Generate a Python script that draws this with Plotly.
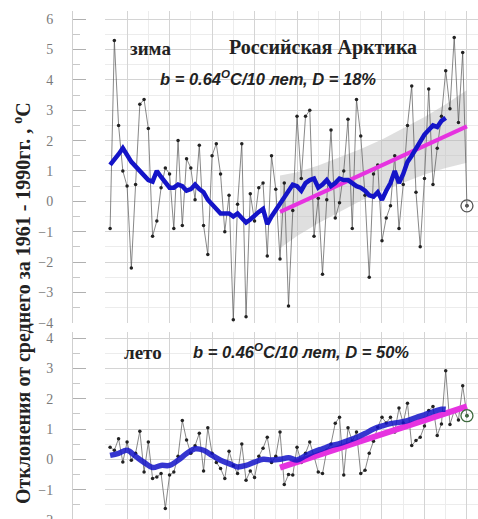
import plotly.graph_objects as go

# ---------------- data ----------------
years = list(range(1936, 2021))

winter = [-0.9, 5.3, 2.5, 1.0, 0.5, -2.2, 0.55, 3.2, 3.35, 2.4,
          -1.15, -0.65, 0.45, 1.1, 0.9, -0.9, 2.0, -0.8, 1.4, 1.1,
          0.05, 1.85, -0.8, -1.75, 1.5, 1.9, 0.9, -1.0, 0.2, -3.9,
          -0.1, 1.9, -3.8, 0.25, -0.65, 0.45, 0.6, -1.8, 1.5, 0.4,
          -1.9, 0.6, -3.45, -0.3, 2.8, 0.75, 2.8, 3.0, -1.15, 0.1,
          -2.4, 0.05, 2.35, -0.55, -0.05, 1.0, 2.7, -0.9, 3.35, 2.15,
          0.2, -2.5, 0.9, 1.2, -1.3, -0.55, -0.15, 1.5, -0.9, 0.55,
          2.5, 3.8, 0.3, -1.5, 0.75, 3.7, 0.55, 1.75, 2.8, 4.3,
          3.05, 5.4, 2.6, 4.9, -0.15]

summer = [0.4, 0.3, 0.68, -0.09, 0.57, -0.03, 0.2, 0.93, -0.42, 0.57,
          -0.63, -0.58, -0.47, -1.62, -0.52, -0.42, 0.1, 1.28, 0.64, 0.2,
          0.45, 0.86, -0.38, 1.04, 0.2, -0.1, -0.3, -0.63, 0.27, -0.2,
          -0.47, 0.51, -0.69, -0.38, -0.6, 0.1, 0.37, 0.73, -0.1, 0.1,
          0.9, -0.83, -0.5, -0.52, 0.4, -0.1, 0.2, 0.57, 0.1, -0.42,
          -0.47, 0.3, 0.51, 1.19, 1.39, -0.52, 1.04, 0.6, 0.9, -0.47,
          -0.36, 0.2, 0.6, 1.06, 1.39, 1.2, 1.39, 0.9, 1.69, 1.2,
          1.85, 0.46, 0.62, 0.73, 1.1, 1.61, 1.74, 0.79, 1.17, 2.92,
          1.15, 1.6, 1.3, 2.43, 1.44]

# smoothed (running mean) curves
smooth_years = list(range(1936, 2016))
winter_smooth = [1.2, 1.35, 1.55, 1.75, 1.5, 1.3, 1.15, 1.0, 0.8, 0.7,
                 0.65, 1.0, 0.8, 0.65, 0.45, 0.45, 0.55, 0.5, 0.35, 0.4,
                 0.55, 0.4, 0.3, 0.05, -0.1, -0.25, -0.4, -0.4, -0.4, -0.5,
                 -0.4, -0.55, -0.7, -0.6, -0.45, -0.35, -0.25, -0.75, -0.5, -0.3,
                 -0.05, 0.15, 0.35, 0.55, 0.5, 0.35, 0.6, 0.7, 0.75, 0.45,
                 0.55, 0.7, 0.5, 0.6, 0.75, 0.7, 0.7, 0.6, 0.5, 0.45,
                 0.35, 0.2, 0.15, 0.3, 0.05, 0.35, 0.6, 1.0, 0.6, 0.9,
                 1.3, 1.5, 1.75, 1.95, 2.2, 2.35, 2.5, 2.45, 2.65, 2.75]

summer_smooth_years = [1936, 1938, 1940, 1942, 1944, 1946, 1948, 1950, 1952, 1954,
                       1956, 1958, 1960, 1962, 1964, 1966, 1968, 1970, 1972, 1974,
                       1976, 1978, 1980, 1982, 1984, 1986, 1988, 1990, 1992, 1994,
                       1996, 1998, 2000, 2002, 2004, 2006, 2008, 2010, 2012, 2014, 2015]
summer_smooth = [0.13, 0.2, 0.3, 0.1, -0.1, -0.27, -0.2, -0.2, -0.03, 0.19,
                 0.35, 0.3, 0.13, -0.03, -0.14, -0.25, -0.2, -0.09, 0.0, -0.02,
                 0.0, 0.05, -0.02, 0.12, 0.25, 0.35, 0.45, 0.52, 0.62, 0.72,
                 0.85, 1.0, 1.1, 1.18, 1.22, 1.28, 1.38, 1.47, 1.57, 1.65, 1.65]

# linear trends since 1976
trend_years = [1976, 2020]
winter_trend = [-0.35, 2.47]
summer_trend = [-0.27, 1.75]

# confidence band of winter trend
band_years = [1976, 1980, 1985, 1990, 1995, 2000, 2005, 2010, 2015, 2020]
band_upper = [0.85, 0.96, 1.18, 1.45, 1.72, 2.04, 2.41, 2.78, 3.2, 3.67]
band_lower = [-1.55, -1.14, -0.72, -0.35, 0.02, 0.34, 0.61, 0.88, 1.1, 1.27]

# latest year (circled)
last_year = [2020]
winter_last = [-0.15]
summer_last = [1.44]

# ---------------- figure ----------------
W = 478
H = 528          # layout height; positions below are given in 519-px picture units
REF_H = 519
fig = go.Figure()

BLUE = "#1414c8"
PINK = "#e633e0"
DOT = "#222222"


def circled(x, y, color, xa, ya):
    fig.add_trace(go.Scatter(x=x, y=y, mode="markers", cliponaxis=False,
                             marker=dict(symbol="circle", size=12, color="rgba(255,255,255,0)",
                                         line=dict(width=1.3, color=color)),
                             xaxis=xa, yaxis=ya))
    fig.add_trace(go.Scatter(x=x, y=y, mode="markers", cliponaxis=False,
                             marker=dict(symbol="circle", size=3.5, color=color),
                             xaxis=xa, yaxis=ya))


# top panel (winter)
fig.add_trace(go.Scatter(x=band_years + band_years[::-1], y=band_upper + band_lower[::-1],
                         fill="toself", fillcolor="rgba(185,185,185,0.45)",
                         line=dict(width=0), hoverinfo="skip", xaxis="x", yaxis="y"))
fig.add_trace(go.Scatter(x=years, y=winter, mode="lines+markers",
                         line=dict(color="#555555", width=0.7),
                         marker=dict(color=DOT, size=3.5), xaxis="x", yaxis="y"))
fig.add_trace(go.Scatter(x=trend_years, y=winter_trend, mode="lines",
                         line=dict(color=PINK, width=4), xaxis="x", yaxis="y"))
fig.add_trace(go.Scatter(x=smooth_years, y=winter_smooth, mode="lines",
                         line=dict(color=BLUE, width=4.5), xaxis="x", yaxis="y"))
circled(last_year, winter_last, "#555555", "x", "y")

# bottom panel (summer)
fig.add_trace(go.Scatter(x=years, y=summer, mode="lines+markers",
                         line=dict(color="#555555", width=0.7),
                         marker=dict(color=DOT, size=3.5), xaxis="x2", yaxis="y2"))
fig.add_trace(go.Scatter(x=trend_years, y=summer_trend, mode="lines",
                         line=dict(color=PINK, width=6), xaxis="x2", yaxis="y2"))
fig.add_trace(go.Scatter(x=summer_smooth_years, y=summer_smooth, mode="lines",
                         line=dict(color=BLUE, width=5.5, shape="spline"), opacity=0.85,
                         xaxis="x2", yaxis="y2"))
circled(last_year, summer_last, "#3f6a3f", "x2", "y2")

xr = [1934.8, 2022.6]
xdom = [105 / W, 1.0]
xcommon = dict(range=xr, domain=xdom, showticklabels=False, ticks="",
               showgrid=True, gridcolor="#d4d4d4", gridwidth=1,
               tick0=1940, dtick=10, zeroline=False, showline=False,
               minor=dict(showgrid=True, gridcolor="#ececec", dtick=5, tick0=1935))

ycommon = dict(anchor="free", position=72 / W, side="left",
               tickmode="linear", dtick=1, ticks="inside", ticklen=13,
               tickcolor="#b0b0b0", tickwidth=1, showline=True, linecolor="#cfcfcf",
               linewidth=1, showgrid=True, gridcolor="#d4d4d4", gridwidth=1,
               zeroline=False, ticklabelstandoff=16,
               tickfont=dict(family="Liberation Serif", size=14, color="#7a7a7a"),
               minor=dict(ticks="inside", ticklen=7, tickcolor="#c8c8c8", dtick=0.5,
                          showgrid=True, gridcolor="#ececec"))


def py(pix):
    return max(0.0, 1 - pix / REF_H)


fig.update_layout(
    width=W, height=H, margin=dict(l=0, r=0, t=0, b=0),
    paper_bgcolor="white", plot_bgcolor="white", showlegend=False,
    xaxis=dict(anchor="y", **xcommon),
    xaxis2=dict(anchor="y2", **xcommon),
    yaxis=dict(range=[-4, 6.27], domain=[py(321.7), py(10)], tick0=-4, **ycommon),
    yaxis2=dict(range=[-2.0, 4.2], domain=[py(519), py(331)], tick0=-2, **ycommon),
)

SERIF = "Liberation Serif"
SANS = "Liberation Sans"


def ann(text, x, y, size, family, color="#222222", angle=0):
    fig.add_annotation(text=text, x=x / W, y=py(y), xref="paper", yref="paper",
                       showarrow=False, textangle=angle,
                       font=dict(family=family, size=size, color=color),
                       xanchor="center", yanchor="middle")


ann("<b>зима</b>", 150, 48, 19, SERIF)
ann("<b>Российская Арктика</b>", 323, 46, 20, SERIF)
ann("<b><i>b = 0.64<sup>O</sup>C/10 лет, D = 18%</i></b>", 268, 77, 16.5, SANS)
ann("<b>лето</b>", 143, 351, 19, SERIF)
ann("<b><i>b = 0.46<sup>O</sup>C/10 лет, D = 50%</i></b>", 301, 350, 16.5, SANS)
ann("<b>Отклонения от среднего за 1961 - 1990гг. , <sup>o</sup>C</b>", 22, 302, 20, SERIF,
    angle=-90)

fig.write_html("out.html", config={"displayModeBar": False},
               post_script="document.body.style.margin='0';document.body.style.padding='0';document.body.style.overflow='hidden';")
